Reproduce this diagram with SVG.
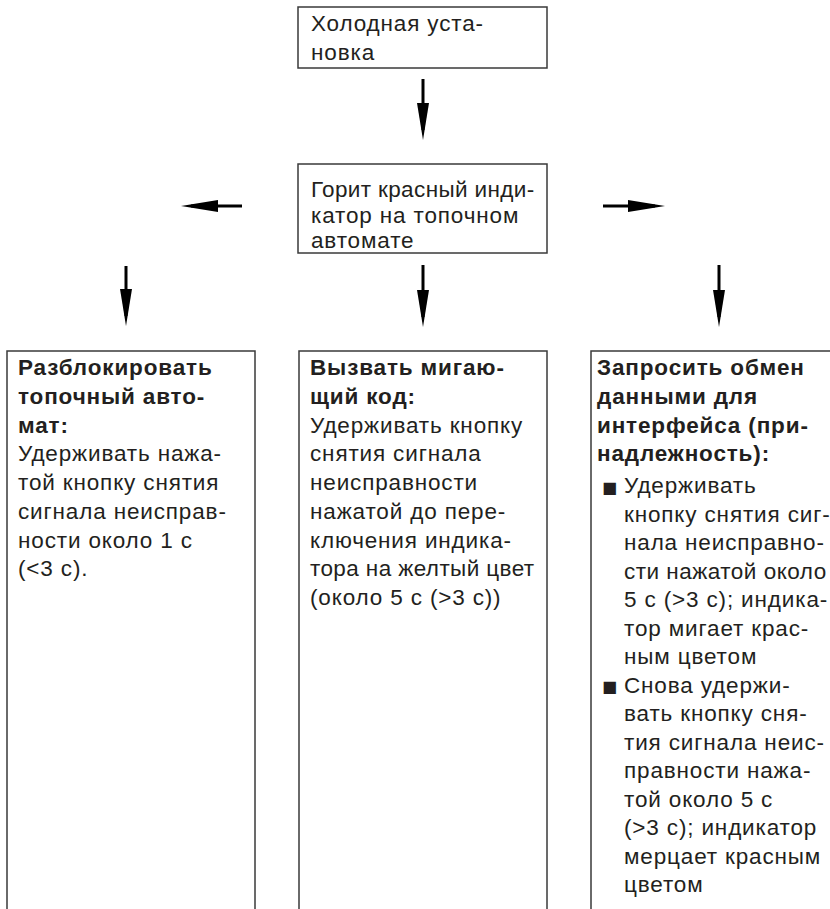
<svg xmlns="http://www.w3.org/2000/svg" width="830" height="909" viewBox="0 0 830 909">
<style>
.box{fill:#fff;stroke:#3a3a3a;stroke-width:1.5}
.t{font-family:"Liberation Sans",Arial,sans-serif;font-size:22.5px;fill:#231f20;letter-spacing:0.85px}
.b{font-weight:bold}
.bul{font-family:"DejaVu Sans",sans-serif;font-size:16px;fill:#231f20}
.arr{stroke:#000;stroke-width:3;fill:none}
</style>
<defs>
<marker id="ah" viewBox="0 0 37 12" markerWidth="37" markerHeight="12" refX="27" refY="6" orient="auto" markerUnits="userSpaceOnUse">
<path d="M0,0 L37,6 L0,12 Z" fill="#000"/>
</marker>
</defs>
<rect width="830" height="909" fill="#fff"/>
<g id="connectors">
<line class="arr" x1="423" y1="79" x2="423" y2="130" marker-end="url(#ah)"/>
<line class="arr" x1="242" y1="206" x2="191" y2="206" marker-end="url(#ah)"/>
<line class="arr" x1="603" y1="206" x2="655" y2="206" marker-end="url(#ah)"/>
<line class="arr" x1="126" y1="266" x2="126" y2="316" marker-end="url(#ah)"/>
<line class="arr" x1="423" y1="265" x2="423" y2="317" marker-end="url(#ah)"/>
<line class="arr" x1="719" y1="265" x2="719" y2="317" marker-end="url(#ah)"/>
</g>
<g id="cold">
<rect class="box" x="298" y="7" width="249" height="61"/>
<text class="t" x="311" y="31">Холодная уста-</text>
<text class="t" x="311" y="60">новка</text>
</g>
<g id="red">
<rect class="box" x="298" y="164" width="249" height="89"/>
<text class="t" x="311" y="197" textLength="224" lengthAdjust="spacing">Горит красный инди-</text>
<text class="t" x="311" y="222.5">катор на топочном</text>
<text class="t" x="311" y="248">автомате</text>
</g>
<g id="unlock">
<rect class="box" x="7" y="351" width="248" height="600"/>
<text class="t b" x="18" y="375">Разблокировать</text>
<text class="t b" x="18" y="403.75">топочный авто-</text>
<text class="t b" x="18" y="432.5">мат:</text>
<text class="t" x="18" y="461.25">Удерживать нажа-</text>
<text class="t" x="18" y="490">той кнопку снятия</text>
<text class="t" x="18" y="518.75">сигнала неисправ-</text>
<text class="t" x="18" y="547.5">ности около 1 с</text>
<text class="t" x="18" y="576.25">(&lt;3 с).</text>
</g>
<g id="blink">
<rect class="box" x="299" y="351" width="248" height="600"/>
<text class="t b" x="310" y="375">Вызвать мигаю-</text>
<text class="t b" x="310" y="403.75">щий код:</text>
<text class="t" x="310" y="432.5">Удерживать кнопку</text>
<text class="t" x="310" y="461.25">снятия сигнала</text>
<text class="t" x="310" y="490">неисправности</text>
<text class="t" x="310" y="518.75">нажатой до пере-</text>
<text class="t" x="310" y="547.5">ключения индика-</text>
<text class="t" x="310" y="576.25" textLength="225" lengthAdjust="spacing">тора на желтый цвет</text>
<text class="t" x="310" y="605">(около 5 с (&gt;3 с))</text>
</g>
<g id="exchange">
<rect class="box" x="591" y="351" width="248" height="600"/>
<text class="t b" x="597" y="375">Запросить обмен</text>
<text class="t b" x="597" y="403.75">данными для</text>
<text class="t b" x="597" y="432.5">интерфейса (при-</text>
<text class="t b" x="597" y="461.25">надлежность):</text>
<text class="bul" x="602" y="493">■</text>
<text class="bul" x="602" y="692">■</text>
<text class="t" x="624" y="493">Удерживать</text>
<text class="t" x="624" y="521.5">кнопку снятия сиг-</text>
<text class="t" x="624" y="550">нала неисправно-</text>
<text class="t" x="624" y="578.5" textLength="203" lengthAdjust="spacing">сти нажатой около</text>
<text class="t" x="624" y="607">5 с (&gt;3 с); индика-</text>
<text class="t" x="624" y="635.5">тор мигает крас-</text>
<text class="t" x="624" y="664">ным цветом</text>
<text class="t" x="624" y="692.5">Снова удержи-</text>
<text class="t" x="624" y="721">вать кнопку сня-</text>
<text class="t" x="624" y="749.5">тия сигнала неис-</text>
<text class="t" x="624" y="778">правности нажа-</text>
<text class="t" x="624" y="806.5">той около 5 с</text>
<text class="t" x="624" y="835">(&gt;3 с); индикатор</text>
<text class="t" x="624" y="863.5">мерцает красным</text>
<text class="t" x="624" y="892">цветом</text>
</g>
</svg>
